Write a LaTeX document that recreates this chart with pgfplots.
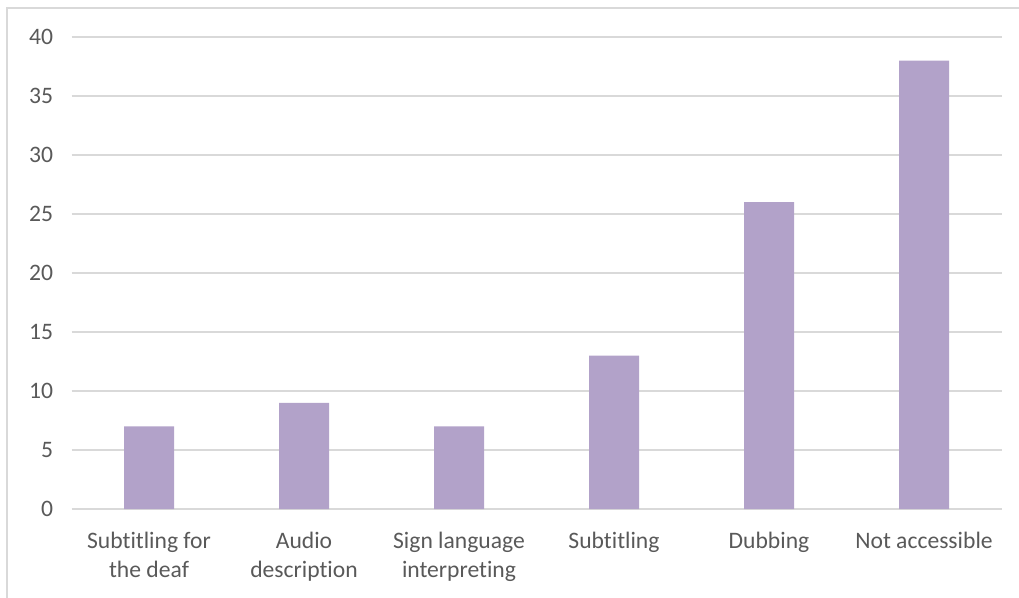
\documentclass[border=0pt]{standalone}
\usepackage{fontspec}
\setmainfont[Ligatures=NoCommon]{Carlito}
\usepackage{pgfplots}
\pgfplotsset{compat=1.18}
\definecolor{txt}{HTML}{595959}
\definecolor{gridc}{HTML}{D9D9D9}
\definecolor{barc}{HTML}{B2A2C9}
\begin{document}
\begin{tikzpicture}[x=1pt,y=1pt]
\begin{axis}[
  at={(71.5pt,88pt)}, anchor=south west,
  scale only axis, width=930pt, height=472pt,
  xmin=-0.5, xmax=5.5, ymin=0, ymax=40,
  ytick={0,5,...,40},
  xtick={0,...,5},
  xticklabels={Subtitling for\\the deaf, Audio\\description, Sign language\\interpreting, Subtitling, Dubbing, Not accessible},
  axis line style={draw=none},
  major tick length=0pt,
  ymajorgrids, grid style={gridc, line width=2pt},
  /pgf/number format/assume math mode=true,
  tick label style={font=\fontsize{23.6}{28.5}\selectfont, text=txt},
  yticklabel style={anchor=east, xshift=-15pt},
  xticklabel style={align=center, anchor=north, yshift=-20pt},
  ybar, bar width=50pt, bar shift=0pt,
]
\addplot[fill=barc, draw=none] coordinates {(0,7) (1,9) (2,7) (3,13) (4,26) (5,38)};
\end{axis}
\draw[gridc, line width=2pt] (7,-10) -- (7,589) -- (1030,589);
\pgfresetboundingbox
\useasboundingbox (0,0) rectangle (1019,597);
\end{tikzpicture}
\end{document}
